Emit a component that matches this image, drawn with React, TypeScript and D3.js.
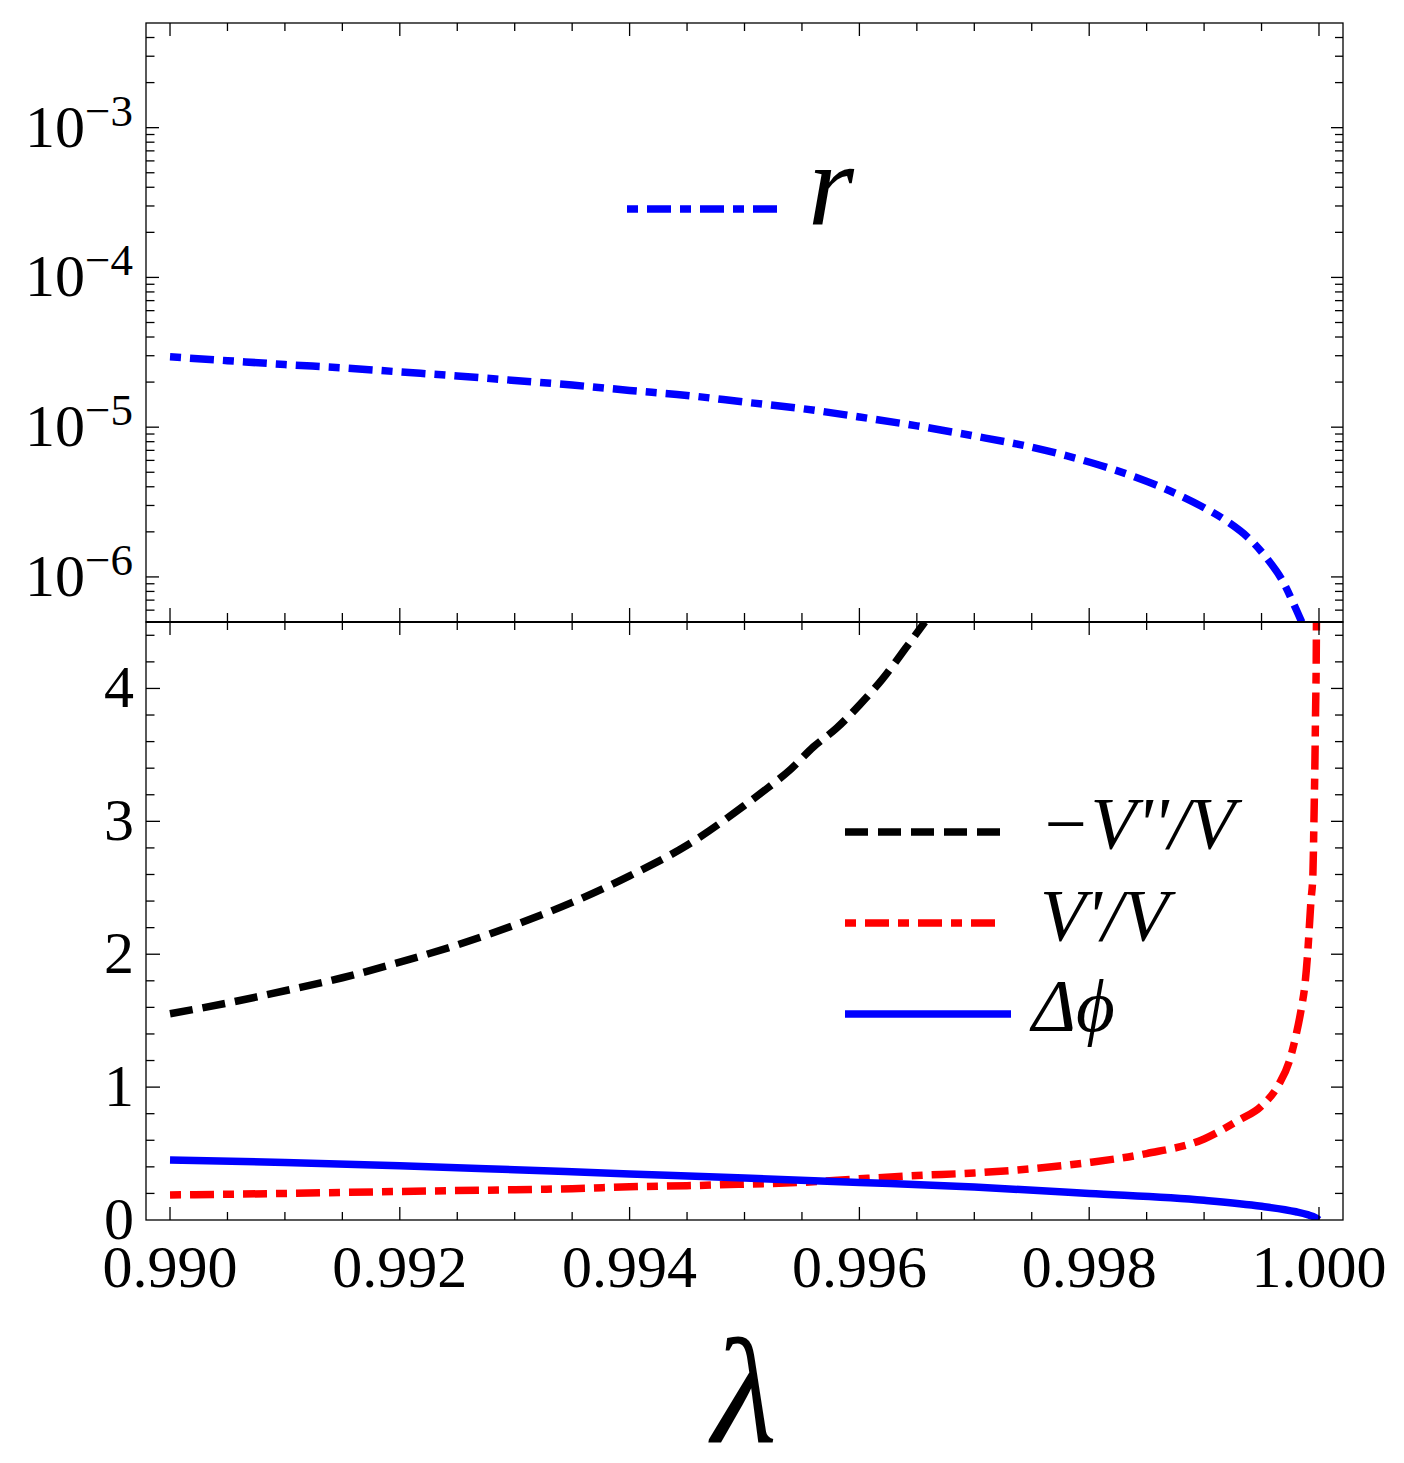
import React from "react";
import * as d3 from "d3";

// ---------- data ----------
const rLambda = [0.99, 0.9905, 0.991, 0.9915, 0.992, 0.9925, 0.993, 0.9935, 0.994, 0.9945, 0.995, 0.9955, 0.996, 0.9965, 0.997, 0.9975, 0.9978, 0.9981, 0.9984, 0.9987, 0.999, 0.9992, 0.9994, 0.99955, 0.99968, 0.99978, 0.99985];
const rValues = [2.95e-5, 2.78e-5, 2.62e-5, 2.49e-5, 2.34e-5, 2.2e-5, 2.05e-5, 1.91e-5, 1.76e-5, 1.63e-5, 1.47e-5, 1.33e-5, 1.17e-5, 1.02e-5, 8.73e-6, 7.35e-6, 6.45e-6, 5.55e-6, 4.65e-6, 3.76e-6, 2.9e-6, 2.35e-6, 1.78e-6, 1.32e-6, 9.5e-7, 6.6e-7, 5.0e-7];

const etaLambda = [0.99, 0.9905, 0.991, 0.9915, 0.992, 0.9925, 0.993, 0.9935, 0.994, 0.9945, 0.995, 0.9952, 0.9954, 0.9956, 0.9958, 0.996, 0.9962, 0.9964, 0.99657];
const etaValues = [1.552, 1.633, 1.725, 1.823, 1.94, 2.07, 2.22, 2.39, 2.59, 2.82, 3.12, 3.25, 3.39, 3.56, 3.7, 3.875, 4.07, 4.3, 4.5];

const epsLambda = [0.99, 0.991, 0.992, 0.993, 0.9935, 0.994, 0.9945, 0.995, 0.9955, 0.996, 0.9965, 0.997, 0.9975, 0.998, 0.9985, 0.999, 0.9993, 0.9995, 0.99965, 0.99974, 0.9998, 0.999846, 0.99988, 0.9999, 0.99993, 0.999947, 0.999956, 0.999964, 0.99997, 0.999976, 0.999978];
const epsValues = [0.188, 0.2, 0.215, 0.228, 0.236, 0.25, 0.258, 0.27, 0.283, 0.31, 0.335, 0.354, 0.386, 0.433, 0.5, 0.61, 0.75, 0.858, 1.02, 1.19, 1.39, 1.59, 1.79, 1.99, 2.4, 2.6, 3.0, 3.41, 3.81, 4.22, 4.5];

const dphiLambda = [0.99, 0.991, 0.992, 0.993, 0.994, 0.995, 0.996, 0.997, 0.998, 0.999, 0.9995, 0.9998, 0.9999, 0.99997, 1.0];
const dphiValues = [0.451, 0.433, 0.408, 0.378, 0.347, 0.316, 0.283, 0.248, 0.2, 0.148, 0.103, 0.062, 0.04, 0.018, 0.0];

const xMajorTicks = [0.99, 0.992, 0.994, 0.996, 0.998, 1.0];
const xTickLabels = ["0.990", "0.992", "0.994", "0.996", "0.998", "1.000"];
const logMajorExps = [-3, -4, -5, -6];
const linMajorTicks = [0, 1, 2, 3, 4];

const legendTop = ["r"];
const legendBottom = ["\u2212V''/V", "V'/V", "\u0394\u03D5"];

// ---------- layout ----------
const W = 1404;
const H = 1463;
const L = 146;
const R = 1343;
const T = 23;
const M = 622;
const B = 1220;

const FONT = "Liberation Serif, Tinos, Times New Roman, serif";
const DOTDASH = "11 9 24 9";
const DASH = "23 10";
const LW = 7.5;

const txt = (size: number, italic = false): React.CSSProperties => ({
  fontFamily: FONT,
  fontSize: size,
  fontStyle: italic ? "italic" : "normal",
});

export default function App() {
  const x = d3.scaleLinear().domain([0.989791, 1.000209]).range([L, R]);
  const yTop = d3.scaleLog().domain([5e-7, 5e-3]).range([M, T]);
  const yBot = d3.scaleLinear().domain([0, 4.5]).range([B, M]);

  const xMinor = d3
    .range(0, 21)
    .map((i) => 0.99 + i * 0.0005)
    .filter((v) => !xMajorTicks.some((m) => Math.abs(m - v) < 1e-9));
  const logTicks = yTop.ticks().filter((v) => v > 5.01e-7 && v < 4.99e-3);
  const isDecade = (v: number) => Math.abs(Math.log10(v) - Math.round(Math.log10(v))) < 1e-6;
  const linTicks = d3.range(1, 23).map((i) => i * 0.2);

  const lineTop = d3
    .line<[number, number]>()
    .x((d) => x(d[0]))
    .y((d) => yTop(d[1]))
    .curve(d3.curveMonotoneX);
  const lineBot = d3
    .line<[number, number]>()
    .x((d) => x(d[0]))
    .y((d) => yBot(d[1]))
    .curve(d3.curveMonotoneX);

  const rPts = rLambda.map((l, i) => [l, rValues[i]] as [number, number]);
  const etaPts = etaLambda.map((l, i) => [l, etaValues[i]] as [number, number]);
  const epsPts = epsLambda.map((l, i) => [l, epsValues[i]] as [number, number]);
  const dphiPts = dphiLambda.map((l, i) => [l, dphiValues[i]] as [number, number]);

  const tk = { stroke: "#000", strokeWidth: 1.3 };

  return (
    <svg
      width={W}
      height={H}
      viewBox={`0 0 ${W} ${H}`}
      style={{ position: "absolute", left: 0, top: 0, background: "#fff" }}
    >
      <defs>
        <clipPath id="clipTop">
          <rect x={L} y={T} width={R - L} height={M - T} />
        </clipPath>
        <clipPath id="clipBot">
          <rect x={L} y={M} width={R - L} height={B - M} />
        </clipPath>
      </defs>
      <rect x={0} y={0} width={W} height={H} fill="#fff" />

      {/* curves */}
      <g clipPath="url(#clipTop)">
        <path d={lineTop(rPts) || ""} fill="none" stroke="#0000ff" strokeWidth={LW} strokeDasharray={DOTDASH} />
      </g>
      <g clipPath="url(#clipBot)">
        <path d={lineBot(etaPts) || ""} fill="none" stroke="#000" strokeWidth={LW} strokeDasharray={DASH} />
        <path d={lineBot(epsPts) || ""} fill="none" stroke="#ff0000" strokeWidth={LW} strokeDasharray={DOTDASH} />
        <path d={lineBot(dphiPts) || ""} fill="none" stroke="#0000ff" strokeWidth={LW} />
      </g>

      {/* frames */}
      <rect x={L} y={T} width={R - L} height={M - T} fill="none" stroke="#000" strokeWidth={1.3} />
      <rect x={L} y={M} width={R - L} height={B - M} fill="none" stroke="#000" strokeWidth={1.3} />
      <line x1={L} x2={R} y1={M} y2={M} stroke="#000" strokeWidth={2.2} />

      {/* x ticks */}
      {xMajorTicks.map((v) => (
        <g key={"xM" + v}>
          <line x1={x(v)} x2={x(v)} y1={T} y2={T + 13} {...tk} />
          <line x1={x(v)} x2={x(v)} y1={M - 14} y2={M + 13} {...tk} />
          <line x1={x(v)} x2={x(v)} y1={B} y2={B - 13} {...tk} />
        </g>
      ))}
      {xMinor.map((v) => (
        <g key={"xm" + v}>
          <line x1={x(v)} x2={x(v)} y1={T} y2={T + 8} {...tk} />
          <line x1={x(v)} x2={x(v)} y1={M - 9} y2={M + 8} {...tk} />
          <line x1={x(v)} x2={x(v)} y1={B} y2={B - 8} {...tk} />
        </g>
      ))}

      {/* log ticks (top panel) */}
      {logTicks.map((v) => {
        const len = isDecade(v) ? 13 : 8.5;
        const lenR = isDecade(v) ? 12 : 8;
        return (
          <g key={"ly" + v}>
            <line x1={L} x2={L + len} y1={yTop(v)} y2={yTop(v)} {...tk} />
            <line x1={R} x2={R - lenR} y1={yTop(v)} y2={yTop(v)} {...tk} />
          </g>
        );
      })}

      {/* linear ticks (bottom panel) */}
      {linTicks.map((v) => {
        const major = Math.abs(v - Math.round(v)) < 1e-6;
        const len = major ? 14 : 8.5;
        const lenR = major ? 12 : 8;
        return (
          <g key={"by" + v}>
            <line x1={L} x2={L + len} y1={yBot(v)} y2={yBot(v)} {...tk} />
            <line x1={R} x2={R - lenR} y1={yBot(v)} y2={yBot(v)} {...tk} />
          </g>
        );
      })}

      {/* y labels top */}
      {logMajorExps.map((e) => (
        <text key={"lt" + e} x={133} y={yTop(Math.pow(10, e)) + 19} textAnchor="end" style={txt(60)} fill="#000">
          10
          <tspan style={txt(45)} dy={-21}>
            {"\u2212" + Math.abs(e)}
          </tspan>
        </text>
      ))}

      {/* y labels bottom */}
      {linMajorTicks.map((v) => (
        <text key={"lb" + v} x={134} y={yBot(v) + 19} textAnchor="end" style={txt(60)} fill="#000">
          {String(v)}
        </text>
      ))}

      {/* x labels */}
      {xMajorTicks.map((v, i) => (
        <text key={"xl" + v} x={x(v)} y={1287} textAnchor="middle" style={txt(60)} fill="#000">
          {xTickLabels[i]}
        </text>
      ))}

      {/* x axis title */}
      <text x={(L + R) / 2} y={1443} textAnchor="middle" style={txt(150, true)} fill="#000">
        {"\u03BB"}
      </text>

      {/* top legend */}
      <line x1={627} x2={779} y1={209} y2={209} stroke="#0000ff" strokeWidth={LW} strokeDasharray={DOTDASH} />
      <text x={808} y={225} style={txt(118, true)} fill="#000">
        {legendTop[0]}
      </text>

      {/* bottom legend */}
      <line x1={845} x2={1001} y1={832} y2={832} stroke="#000" strokeWidth={LW} strokeDasharray={DASH} />
      <text x={1040} y={849} style={txt(75, true)} fill="#000">
        {legendBottom[0]}
      </text>
      <line x1={845} x2={996} y1={923} y2={923} stroke="#ff0000" strokeWidth={LW} strokeDasharray={DOTDASH} />
      <text x={1040} y={941} style={txt(75, true)} fill="#000">
        {legendBottom[1]}
      </text>
      <line x1={845} x2={1011} y1={1014} y2={1014} stroke="#0000ff" strokeWidth={LW} />
      <text x={1032} y={1031} style={txt(75, true)} fill="#000">
        {legendBottom[2]}
      </text>
    </svg>
  );
}
